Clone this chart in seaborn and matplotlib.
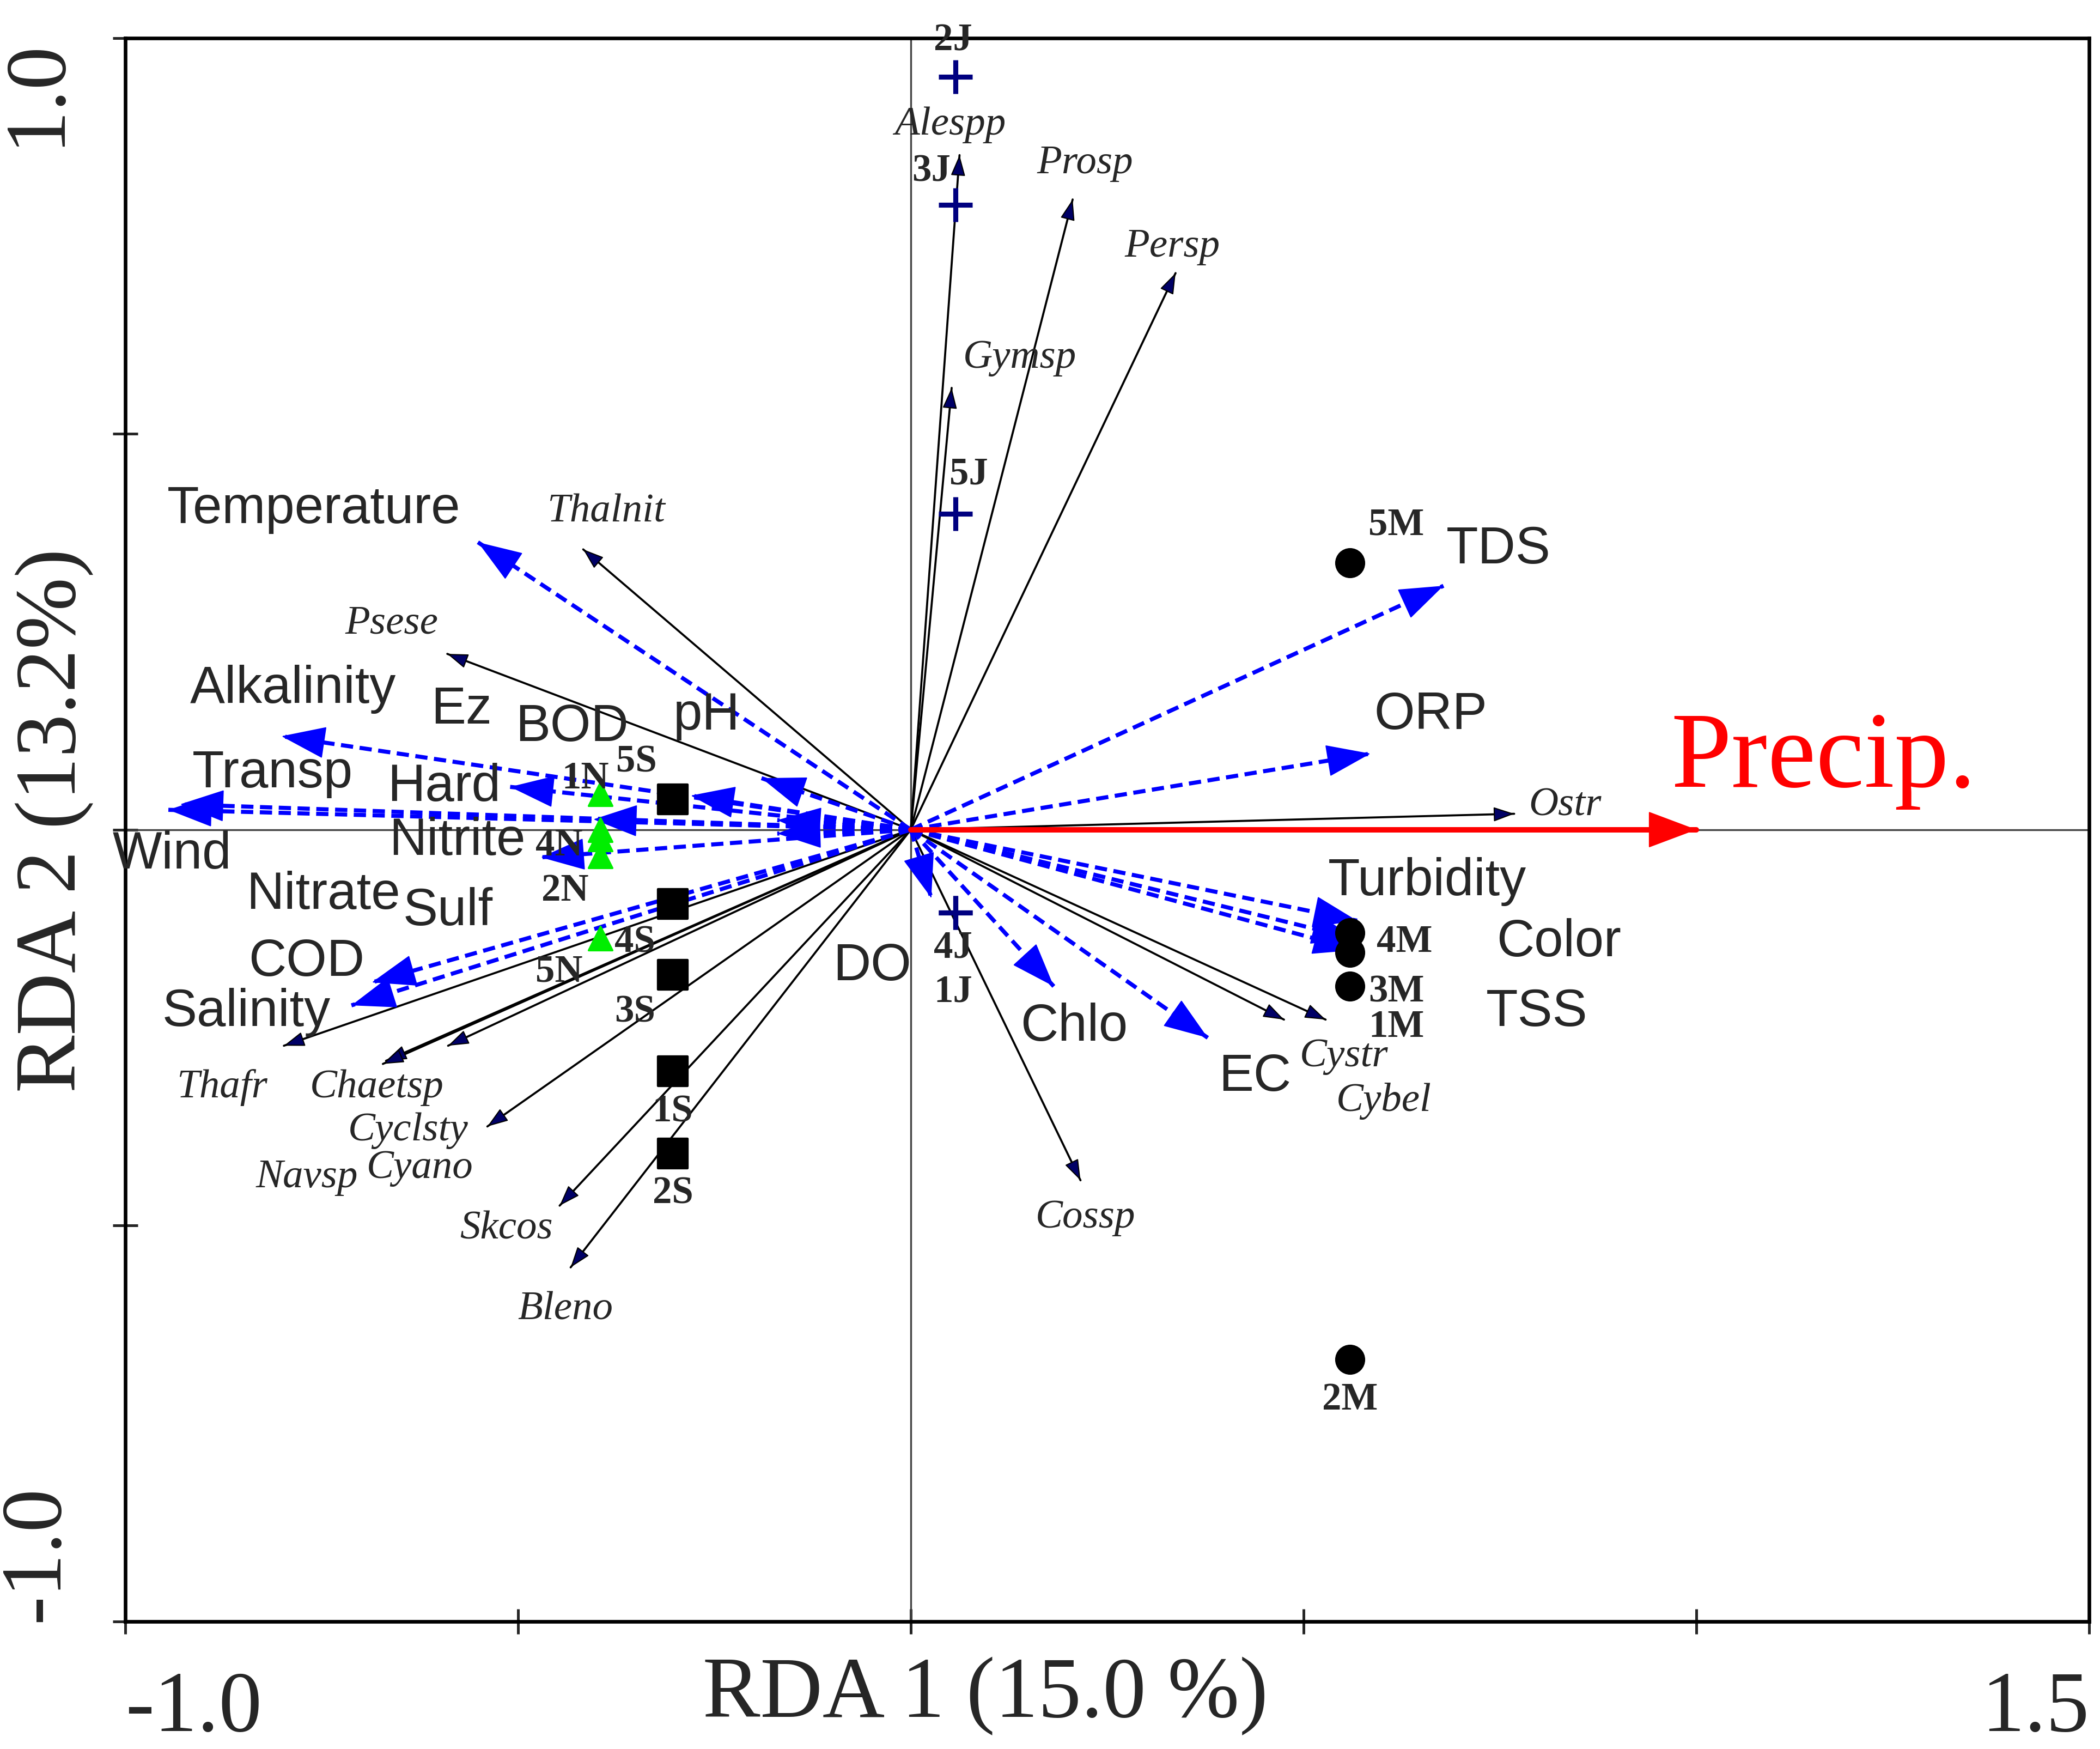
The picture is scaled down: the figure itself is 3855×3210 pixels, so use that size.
import numpy as np
import pandas as pd
import seaborn as sns
import matplotlib.pyplot as plt

# environmental variables (blue dashed arrows)
env_names = ["Temperature", "pH", "Alkalinity", "Hard", "Ez", "BOD", "Transp", "Wind",
             "Nitrite", "Nitrate", "Sulf", "COD", "Salinity",
             "TDS", "ORP", "Turbidity", "Color", "TSS", "Chlo", "EC", "DO"]
env_x = [-0.551, -0.190, -0.801, -0.510, -0.280, -0.170, -0.930, -0.945,
         -0.404, -0.471, -0.170, -0.686, -0.712,
         0.678, 0.585, 0.568, 0.568, 0.566, 0.182, 0.378, 0.026]
env_y = [0.363, 0.065, 0.118, 0.054, 0.043, 0.012, 0.032, 0.025,
         0.013, -0.035, -0.005, -0.193, -0.222,
         0.308, 0.096, -0.115, -0.152, -0.138, -0.198, -0.263, -0.086]

# precipitation (red arrow)
precip_x = 1.0
precip_y = 0.0

# species (thin black arrows)
species_names = ["Alespp", "Prosp", "Persp", "Gymsp", "Thalnit", "Psese", "Ostr",
                 "Cystr", "Cybel", "Cossp", "Thafr", "Chaetsp", "Navsp", "Cyano",
                 "Cyclsty", "Skcos", "Bleno"]
species_x = [0.062, 0.206, 0.337, 0.052, -0.417, -0.590, 0.768,
             0.475, 0.528, 0.216, -0.798, -0.668, -0.672, -0.589,
             -0.539, -0.447, -0.433]
species_y = [0.852, 0.796, 0.703, 0.558, 0.354, 0.222, 0.020,
             -0.240, -0.240, -0.443, -0.273, -0.292, -0.296, -0.273,
             -0.375, -0.475, -0.553]

# sites
site_names = ["2J", "3J", "5J", "4J", "1J",
              "5M", "4M", "1M", "3M", "2M",
              "5S", "4S", "3S", "1S", "2S",
              "1N", "3N", "4N", "2N", "5N"]
site_group = ["J"] * 5 + ["M"] * 5 + ["S"] * 5 + ["N"] * 5
site_x = [0.057, 0.057, 0.057, 0.057, 0.057,
          0.559, 0.559, 0.559, 0.559, 0.559,
          -0.303, -0.303, -0.303, -0.303, -0.303,
          -0.395, -0.395, -0.395, -0.395, -0.395]
site_y = [0.951, 0.789, 0.399, -0.105, -0.105,
          0.337, -0.130, -0.155, -0.198, -0.669,
          0.038, -0.094, -0.183, -0.305, -0.409,
          0.045, 0.000, -0.012, -0.033, -0.137]

# label placement (data coords)
env_label_pos = {
    "Temperature": (-0.760, 0.405), "Alkalinity": (-0.786, 0.178), "Ez": (-0.572, 0.152),
    "BOD": (-0.431, 0.130), "pH": (-0.260, 0.144), "Transp": (-0.812, 0.071),
    "Hard": (-0.594, 0.054), "Wind": (-0.940, -0.031), "Nitrite": (-0.577, -0.014),
    "Nitrate": (-0.748, -0.082), "Sulf": (-0.589, -0.103), "COD": (-0.769, -0.167),
    "Salinity": (-0.846, -0.230), "DO": (-0.049, -0.172), "Chlo": (0.208, -0.249),
    "EC": (0.438, -0.312), "Turbidity": (0.657, -0.065), "Color": (0.825, -0.142),
    "TSS": (0.797, -0.230), "TDS": (0.748, 0.354), "ORP": (0.662, 0.145),
}
precip_label_pos = (1.162, 0.088)
species_label_pos = {
    "Alespp": (0.050, 0.891), "Prosp": (0.222, 0.842), "Persp": (0.333, 0.737),
    "Gymsp": (0.139, 0.596), "Thalnit": (-0.388, 0.402), "Psese": (-0.661, 0.261),
    "Ostr": (0.833, 0.031), "Cystr": (0.551, -0.286), "Cybel": (0.602, -0.342),
    "Cossp": (0.222, -0.490), "Thafr": (-0.877, -0.325), "Chaetsp": (-0.680, -0.325),
    "Cyclsty": (-0.640, -0.380), "Navsp": (-0.769, -0.439), "Cyano": (-0.625, -0.427),
    "Skcos": (-0.515, -0.504), "Bleno": (-0.440, -0.606),
}
site_label_pos = {
    "2J": (0.054, 0.997), "3J": (0.026, 0.832), "5J": (0.074, 0.449),
    "4J": (0.054, -0.149), "1J": (0.054, -0.205),
    "5M": (0.618, 0.385), "4M": (0.628, -0.142), "3M": (0.618, -0.205),
    "1M": (0.618, -0.249), "2M": (0.559, -0.720),
    "5S": (-0.349, 0.086), "4S": (-0.351, -0.142), "3S": (-0.351, -0.230),
    "1S": (-0.303, -0.356), "2S": (-0.303, -0.459),
    "1N": (-0.414, 0.065), "4N": (-0.448, -0.020), "2N": (-0.440, -0.077),
    "5N": (-0.448, -0.179),
}

sns.set_style("ticks")
SANS = "Liberation Sans"
SERIF = "Liberation Serif"

fig = plt.figure(figsize=(12.85, 10.7033), dpi=300)
ax = fig.add_axes([0.0596, 0.073, 0.9353, 0.905])

ax.set_xlim(-1.0, 1.5)
ax.set_ylim(-1.0, 1.0)
ax.axhline(0, color="#444444", lw=0.8, zorder=1)
ax.axvline(0, color="#444444", lw=0.8, zorder=1)


def arrow_head(x, y, color, hl, hw, fc=None, frac=0.02):
    """Solid arrow head at (x, y) pointing away from the origin."""
    ax.annotate("", xy=(x, y), xytext=(x * (1 - frac), y * (1 - frac)),
                arrowprops=dict(arrowstyle=f"-|>,head_length={hl},head_width={hw}",
                                mutation_scale=10, color=color, fc=fc or color,
                                lw=0.5, shrinkA=0, shrinkB=0), zorder=3)


# species arrows
for name, x, y in zip(species_names, species_x, species_y):
    ax.plot([0, x], [0, y], color="black", lw=0.9, zorder=2)
    arrow_head(x, y, "black", 0.8, 0.28, fc="#000066")
    lx, ly = species_label_pos[name]
    ax.text(lx, ly, name, fontsize=18, style="italic", family=SERIF,
            ha="center", va="center", zorder=5)

# environmental arrows
for name, x, y in zip(env_names, env_x, env_y):
    ax.plot([0, x], [0, y], color="#0000FF", lw=1.8, linestyle=(0, (3, 1.6)),
            zorder=3)
    arrow_head(x, y, "#0000FF", 1.8, 0.65)
    lx, ly = env_label_pos[name]
    ax.text(lx, ly, name, fontsize=23, family=SANS, ha="center", va="center", zorder=5)

# precipitation
ax.plot([0, precip_x], [0, precip_y], color="#FF0000", lw=2.4, zorder=3)
arrow_head(precip_x, precip_y, "#FF0000", 2.0, 0.75)
ax.text(precip_label_pos[0], precip_label_pos[1], "Precip.", fontsize=48,
        family=SERIF, color="#FF0000", ha="center", va="center", zorder=5)

# sites
sites = pd.DataFrame({"site": site_names, "group": site_group, "x": site_x, "y": site_y})
site_style = {
    "J": dict(marker="+", s=220, color="#000080", linewidth=2.2),
    "M": dict(marker="o", s=150, color="black", edgecolor="black"),
    "S": dict(marker="s", s=170, color="black", edgecolor="black"),
    "N": dict(marker="^", s=110, color="#00EE00", edgecolor="#00EE00"),
}
for grp, st in site_style.items():
    sub = sites[sites["group"] == grp]
    sns.scatterplot(data=sub, x="x", y="y", ax=ax, legend=False, zorder=4, **st)

for name in site_names:
    if name in site_label_pos:
        lx, ly = site_label_pos[name]
        ax.text(lx, ly, name, fontsize=17, fontweight="bold", family=SERIF,
                ha="center", va="center", zorder=5)

# axes styling
for side in ax.spines.values():
    side.set_linewidth(1.6)
    side.set_color("black")

ax.set_xticks([-1.0, -0.5, 0.0, 0.5, 1.0, 1.5])
ax.set_xticklabels(["-1.0", "", "", "", "", "1.5"])
ax.set_yticks([-1.0, -0.5, 0.0, 0.5, 1.0])
ax.set_yticklabels(["-1.0", "", "", "", "1.0"])
ax.tick_params(direction="inout", length=11, width=1.2, pad=16)
for lab in ax.get_xticklabels():
    lab.set_fontfamily(SERIF)
    lab.set_fontsize(38)
xl = ax.get_xticklabels()
xl[0].set_ha("left")
xl[-1].set_ha("right")
for lab in ax.get_yticklabels():
    lab.set_fontfamily(SERIF)
    lab.set_fontsize(38)
    lab.set_rotation(90)
yl = ax.get_yticklabels()
yl[0].set_va("bottom")
yl[-1].set_va("top")

ax.set_xlabel("RDA 1 (15.0 %)", fontsize=38, family=SERIF)
ax.set_ylabel("RDA 2 (13.2%)", fontsize=38, family=SERIF)
ax.xaxis.set_label_coords(0.438, -0.022)
ax.yaxis.set_label_coords(-0.016, 0.506)

fig.savefig("out.png", dpi=300)
